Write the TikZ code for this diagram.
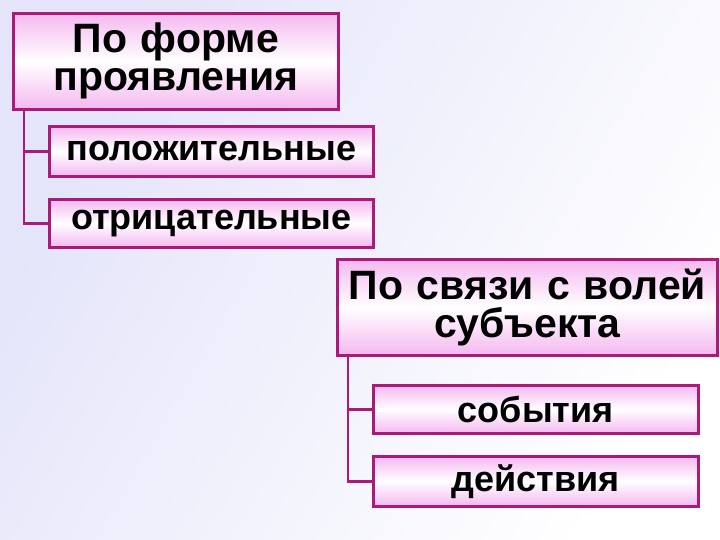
\documentclass[tikz,border=0pt]{standalone}
\usepackage{fontspec}
\setmainfont{Liberation Sans}
\begin{document}
\begin{tikzpicture}[x=1pt,y=-1pt,
  bx/.style={draw=boxline, line width=2.6pt, top color=boxpink, bottom color=boxpink, middle color=white, inner sep=0pt, anchor=north west, align=center},
  head/.style={bx, font=\bfseries\fontsize{41}{38}\selectfont},
  item/.style={bx, font=\bfseries\fontsize{36}{40}\selectfont},
  ln/.style={draw=boxline, line width=2.6pt}]
\definecolor{boxline}{HTML}{AC1A78}
\definecolor{boxpink}{HTML}{F4B8F0}
\definecolor{bglav}{HTML}{E4E4FA}
\shade[left color=bglav, right color=white, shading angle=60] (0,0) rectangle (720,540);
\useasboundingbox (0,0) rectangle (720,540);
\node[head, minimum width=325pt, minimum height=96pt, text width=325pt] (f) at (12,12) {По форме\\проявления};
\node[item, minimum width=324pt, minimum height=50pt, text width=324pt] (p) at (48,125) {положительные};
\node[item, minimum width=324pt, minimum height=48pt, text width=324pt] (o) at (48,198) {отрицательные};
\node[head, minimum width=380pt, minimum height=96pt, text width=380pt] (v) at (336,258) {По связи с волей\\субъекта};
\node[item, minimum width=325pt, minimum height=48pt, text width=325pt] (s) at (372,384) {события};
\node[item, minimum width=325pt, minimum height=50pt, text width=325pt] (d) at (372,455) {действия};
\coordinate (fa) at (24,108);
\coordinate (va) at (348,354);
\draw[ln] (fa) |- (o.west);
\draw[ln] (fa |- p.west) -- (p.west);
\draw[ln] (va) |- (d.west);
\draw[ln] (va |- s.west) -- (s.west);
\end{tikzpicture}
\end{document}
